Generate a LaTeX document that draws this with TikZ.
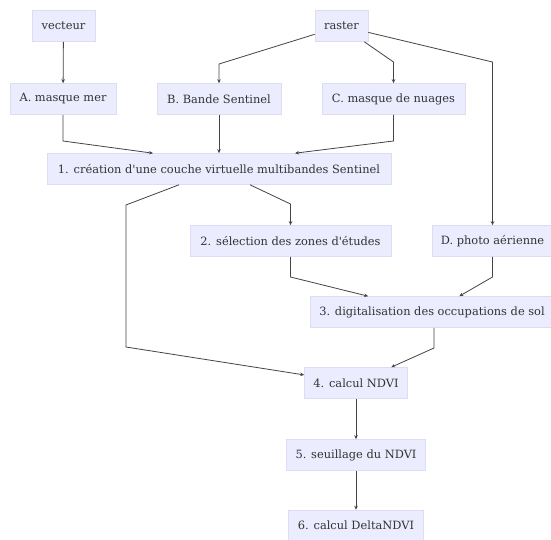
\documentclass[tikz,border=0pt]{standalone}
\usepackage{fontspec}
\setmainfont{DejaVu Serif}
\usetikzlibrary{calc,arrows.meta}
\definecolor{boxfill}{HTML}{ECECFF}
\definecolor{boxline}{HTML}{DCDCF4}
\definecolor{txt}{HTML}{333333}
\definecolor{edge}{HTML}{444444}
\begin{document}
\begin{tikzpicture}[x=1pt,y=-1pt,
  box/.style={draw=boxline,fill=boxfill,line width=0.6pt,text=txt,
    font=\fontsize{11.4}{13}\selectfont,minimum height=31pt,inner sep=0pt,anchor=center},
  arr/.style={draw=edge,line width=0.8pt,-{Stealth[length=4pt,width=3.5pt]}}]
\useasboundingbox (0,0) rectangle (551,540);
\fill[white] (0,0) rectangle (551,540);
\node[box,minimum width=63pt] (vec) at (63.5,26) {vecteur};
\node[box,minimum width=53pt] (ras) at (341.5,26) {raster};
\node[box,minimum width=106pt] (A) at (63,99) {A. masque mer};
\node[box,minimum width=124pt] (B) at (219,99) {B. Bande Sentinel};
\node[box,minimum width=143pt] (C) at (393.5,99) {C. masque de nuages};
\node[box,minimum width=344pt] (n1) at (219,169) {1. création d\textquotesingle une couche virtuelle multibandes Sentinel};
\node[box,minimum width=201pt] (n2) at (290.5,241) {2. sélection des zones d\textquotesingle études};
\node[box,minimum width=121pt] (D) at (492.5,241) {D. photo aérienne};
\node[box,minimum width=244pt] (n3) at (432,312) {3. digitalisation des occupations de sol};
\node[box,minimum width=103pt] (n4) at (356,383) {4. calcul NDVI};
\node[box,minimum width=139pt] (n5) at (356,455) {5. seuillage du NDVI};
\node[box,minimum width=135pt] (n6) at (356,525.5) {6. calcul DeltaNDVI};
\coordinate (rb) at (219,64);
\coordinate (rc) at (393.5,62);
\coordinate (rd) at (492.5,62);
\coordinate (a1) at (63,141);
\coordinate (c1) at (393.5,141);
\coordinate (l1) at (126,205);
\coordinate (l2) at (126,347);
\coordinate (m1) at (290.5,204);
\coordinate (m2) at (290.5,277);
\coordinate (d2) at (492.5,277);
\coordinate (t2) at (434,348);
\draw[arr] (vec) -- (A);
\draw[arr] (ras) -- (rb) -- (B);
\draw[arr] (ras) -- (rc) -- (C);
\draw[arr] (ras) -- (rd) -- (D);
\draw[arr] (A) -- (a1) -- ($(n1.north)+(-66,0)$);
\draw[arr] (B) -- (n1);
\draw[arr] (C) -- (c1) -- ($(n1.north)+(76,0)$);
\draw[arr] ($(n1.south)+(-40,0)$) -- (l1) -- (l2) -- (n4);
\draw[arr] ($(n1.south)+(31,0)$) -- (m1) -- (n2);
\draw[arr] (n2) -- (m2) -- (n3);
\draw[arr] (D) -- (d2) -- (n3);
\draw[arr] (n3.south -| t2) -- (t2) -- (n4);
\draw[arr] (n4) -- (n5);
\draw[arr] (n5) -- (n6);
\end{tikzpicture}
\end{document}
